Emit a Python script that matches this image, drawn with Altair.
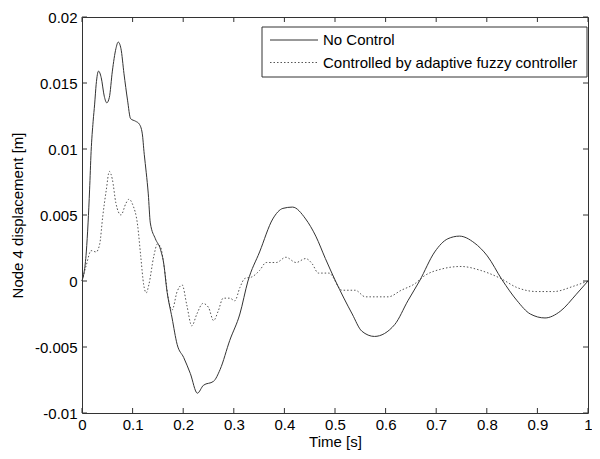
import altair as alt
import pandas as pd

# --- data ---
t_nc = [0, 0.0085, 0.012, 0.015, 0.018, 0.022, 0.025, 0.028, 0.0326, 0.038,
        0.044, 0.049, 0.054, 0.060, 0.067, 0.0716, 0.077, 0.083, 0.090, 0.096,
        0.106, 0.113, 0.119, 0.123, 0.127, 0.131, 0.135, 0.145, 0.155, 0.162,
        0.167, 0.178, 0.188, 0.201, 0.214, 0.228, 0.240, 0.260, 0.273, 0.292,
        0.312, 0.328, 0.351, 0.377, 0.397, 0.416, 0.442, 0.462, 0.481, 0.501,
        0.534, 0.553, 0.578, 0.618, 0.644, 0.667, 0.697, 0.723, 0.746, 0.775,
        0.801, 0.830, 0.860, 0.886, 0.915, 0.945, 0.977, 1.0]
y_nc = [0, 0.0022, 0.0044, 0.0069, 0.0098, 0.0121, 0.0134, 0.0149, 0.0159, 0.0154,
        0.0140, 0.0135, 0.0139, 0.0159, 0.0176, 0.0181, 0.0176, 0.0157, 0.0137, 0.0123,
        0.0121, 0.0119, 0.0112, 0.0096, 0.0082, 0.0066, 0.0044, 0.0032, 0.0024, 0.0012,
        -0.0005, -0.0028, -0.0048, -0.0058, -0.0070, -0.0085, -0.0079, -0.0076, -0.0067, -0.0045,
        -0.0025, 0.0, 0.0022, 0.0047, 0.0055, 0.0056, 0.0047, 0.0034, 0.0017, 0.0,
        -0.0025, -0.0038, -0.0042, -0.0033, -0.0015, 0.0, 0.0022, 0.0032, 0.0034, 0.0029,
        0.0019, 0.0001, -0.0015, -0.0025, -0.0028, -0.0023, -0.0010, 0.0]

t_c = [0, 0.0085, 0.018, 0.028, 0.035, 0.041, 0.048, 0.054, 0.060, 0.067,
       0.077, 0.087, 0.093, 0.100, 0.110, 0.116, 0.122, 0.127, 0.132, 0.142,
       0.149, 0.155, 0.163, 0.170, 0.178, 0.188, 0.198, 0.207, 0.217, 0.227,
       0.239, 0.250, 0.260, 0.269, 0.279, 0.292, 0.302, 0.312, 0.322, 0.335,
       0.351, 0.364, 0.384, 0.403, 0.423, 0.442, 0.455, 0.467, 0.488, 0.514,
       0.540, 0.560, 0.605, 0.631, 0.658, 0.677, 0.710, 0.749, 0.788, 0.827,
       0.860, 0.899, 0.932, 0.971, 1.0]
y_c = [0, 0.0012, 0.0023, 0.0022, 0.0028, 0.0049, 0.0069, 0.0083, 0.0077, 0.0059,
       0.0050, 0.0059, 0.0062, 0.0058, 0.0042, 0.0019, -0.0003, -0.0009, -0.0003, 0.0019,
       0.0028, 0.0026, 0.0009, -0.0012, -0.0022, -0.0008, -0.0003, -0.0018, -0.0034, -0.0025,
       -0.0017, -0.0020, -0.0030, -0.0023, -0.0013, -0.0013, -0.0015, -0.0005, 0.0002, 0.0003,
       0.0008, 0.0014, 0.0014, 0.0018, 0.0014, 0.0017, 0.0013, 0.0006, 0.0006, -0.0007,
       -0.0007, -0.0012, -0.0012, -0.0007, -0.0002, 0.0004, 0.0009, 0.0011, 0.0008, 0.0002,
       -0.0005, -0.0008, -0.0008, -0.0004, 0.0]

x_ticks = [0, 0.1, 0.2, 0.3, 0.4, 0.5, 0.6, 0.7, 0.8, 0.9, 1]
y_ticks = [-0.01, -0.005, 0, 0.005, 0.01, 0.015, 0.02]

series_names = ["No Control", "Controlled by adaptive fuzzy controller"]

W, H = 506, 396
FONT = "Liberation Sans"
FS = 15
FS_LEG = 15
INK = "#333333"

df_nc = pd.DataFrame({"t": t_nc, "y": y_nc})
df_c = pd.DataFrame({"t": t_c, "y": y_c})
df_xt = pd.DataFrame({"t": x_ticks})
df_yt = pd.DataFrame({"y": y_ticks})
one = pd.DataFrame({"k": [0]})

xs = alt.Scale(domain=[0, 1], nice=False, zero=False)
ys = alt.Scale(domain=[-0.01, 0.02], nice=False, zero=False)

common_axis = dict(ticks=False, domain=False, grid=False,
                   labelFont=FONT, labelFontSize=FS, labelColor="black",
                   titleFont=FONT, titleFontSize=FS, titleColor="black",
                   titleFontWeight="normal", labelFlush=False,
                   labelExpr="toString(datum.value)")

X = alt.X("t:Q", scale=xs, title="Time [s]",
          axis=alt.Axis(values=x_ticks, titleX=W / 2, titleY=28, labelPadding=4,
                        titleBaseline="middle", **common_axis))
Y = alt.Y("y:Q", scale=ys, title="Node 4 displacement [m]",
          axis=alt.Axis(values=y_ticks, titleX=-65, titleY=H / 2, labelPadding=5,
                        titleAngle=-90, titleBaseline="middle",
                        titleAlign="center", **common_axis))

line_nc = alt.Chart(df_nc).mark_line(color=INK, strokeWidth=1,
                                     interpolate="monotone").encode(x=X, y=Y)
line_c = alt.Chart(df_c).mark_line(color="#555555", strokeWidth=1,
                                   interpolate="monotone",
                                   strokeDash=[1.5, 2]).encode(x=X, y=Y)

TL = 5
tick_b = alt.Chart(df_xt).mark_rule(color=INK).encode(x=X, y=alt.value(H), y2=alt.value(H - TL))
tick_t = alt.Chart(df_xt).mark_rule(color=INK).encode(x=X, y=alt.value(0), y2=alt.value(TL))
tick_l = alt.Chart(df_yt).mark_rule(color=INK).encode(y=Y, x=alt.value(0), x2=alt.value(TL))
tick_r = alt.Chart(df_yt).mark_rule(color=INK).encode(y=Y, x=alt.value(W), x2=alt.value(W - TL))

# legend box
lx0, lx1, ly0, ly1 = 180, 505, 10, 60
box = alt.Chart(one).mark_rect(fill="white", stroke=INK, strokeWidth=1).encode(
    x=alt.value(lx0), x2=alt.value(lx1), y=alt.value(ly0), y2=alt.value(ly1))
r1y, r2y = 23, 45.5
leg_l1 = alt.Chart(one).mark_rule(color=INK, strokeWidth=1).encode(
    x=alt.value(188), x2=alt.value(236), y=alt.value(r1y))
leg_l2 = alt.Chart(one).mark_rule(color="#555555", strokeWidth=1, strokeDash=[1.5, 2]).encode(
    x=alt.value(188), x2=alt.value(236), y=alt.value(r2y))
leg_t1 = alt.Chart(one).mark_text(align="left", baseline="middle", font=FONT,
                                  fontSize=FS_LEG, color="black").encode(
    x=alt.value(241), y=alt.value(r1y), text=alt.value(series_names[0]))
leg_t2 = alt.Chart(one).mark_text(align="left", baseline="middle", font=FONT,
                                  fontSize=FS_LEG, color="black").encode(
    x=alt.value(241), y=alt.value(r2y), text=alt.value(series_names[1]))

chart = alt.layer(
    line_c, line_nc, tick_b, tick_t, tick_l, tick_r,
    box, leg_l1, leg_l2, leg_t1, leg_t2
).properties(
    width=W, height=H,
    background="white",
    autosize=alt.AutoSizeParams(type="none"),
    padding={"left": 74, "top": 9, "right": 4, "bottom": 38},
).configure_view(
    stroke=INK, strokeWidth=1
)

chart.save("out.html", embed_options={"renderer": "svg", "actions": False})
